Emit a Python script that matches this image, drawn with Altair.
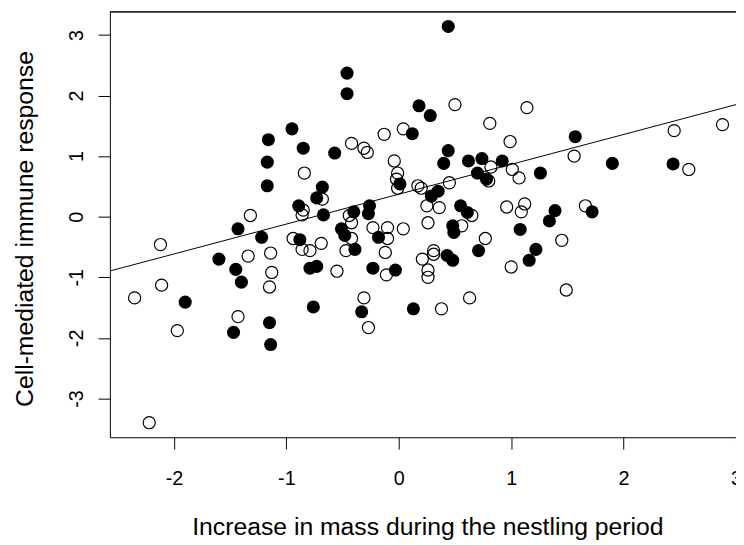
import altair as alt
import pandas as pd

# Filled (black) points
filled_x = [0.44, -0.46, -0.46, 0.18, 0.28, 0.12, 0.44, 0.40, -0.95, -1.16, -0.85, -1.17, -1.17,
            -0.57, 1.57, 1.90, 2.44, 1.26, 1.39, 1.34, 1.72, 1.08, 1.22, 1.16, 0.62, 0.74, 0.92,
            0.70, 0.78, 0.01, 0.35, 0.29, 0.55, 0.61, 0.48, 0.49, -0.68, -0.73, -0.67, -0.40,
            -0.26, -0.27, -0.51, -0.48, -0.18, -0.39, -0.73, -0.23, -0.03, 0.43, 0.48, 0.71,
            -0.89, -1.43, -1.22, -0.88, -1.60, -1.45, -1.40, -0.79, -1.90, -0.76, -1.15, -1.47,
            -1.14, -0.33, 0.13]
filled_y = [3.14, 2.37, 2.03, 1.83, 1.67, 1.37, 1.09, 0.88, 1.45, 1.27, 1.13, 0.90, 0.51,
            1.05, 1.32, 0.88, 0.87, 0.72, 0.10, -0.07, 0.08, -0.21, -0.54, -0.72, 0.92, 0.96, 0.92,
            0.72, 0.62, 0.54, 0.42, 0.34, 0.18, 0.07, -0.15, -0.26, 0.49, 0.31, 0.03, 0.08,
            0.18, 0.05, -0.20, -0.31, -0.34, -0.54, -0.82, -0.85, -0.88, -0.64, -0.72, -0.56,
            0.18, -0.20, -0.34, -0.38, -0.70, -0.87, -1.08, -0.85, -1.41, -1.49, -1.75, -1.91,
            -2.11, -1.57, -1.52]

# Open (hollow) points
open_x = [-2.35, -2.12, -2.11, -2.22, -1.97, -1.43, -1.15, -1.13, -1.14, -1.34, -1.32, -0.94,
          -0.86, -0.79, -0.86, -0.85, -0.84, -0.69, -0.55, -0.47, -0.42, -0.42, -0.44, -0.23,
          -0.10, 0.04, -0.10, -0.12, -0.11, 0.26, 0.26, 0.21, 0.31, 0.31, -0.31, -0.27, 0.38,
          0.63, 1.49, 0.77, 1.00, 1.45, 0.96, 1.12, 1.09, 1.66, 1.07, 1.01, 0.82, 0.80, 1.56,
          2.58, 2.45, 2.88, 1.14, 0.99, 0.81, 0.50, 0.04, -0.13, -0.42, -0.31, -0.28, -0.04,
          -0.01, -0.02, 0.17, 0.20, 0.45, 0.25, 0.36, 0.26, 0.65, -0.68, 0.56, -0.01]
open_y = [-1.34, -0.46, -1.13, -3.40, -1.88, -1.65, -1.16, -0.92, -0.60, -0.65, 0.02, -0.36,
          -0.54, -0.56, 0.03, 0.11, 0.72, -0.44, -0.90, -0.56, -0.36, -0.10, 0.02, -0.18,
          -0.18, -0.20, -0.36, -0.59, -0.96, -0.88, -1.00, -0.70, -0.56, -0.62, -1.34, -1.83, -1.52,
          -1.34, -1.21, -0.36, -0.83, -0.39, 0.16, 0.21, 0.08, 0.18, 0.64, 0.78, 0.82, 0.59, 1.00,
          0.78, 1.42, 1.52, 1.80, 1.24, 1.54, 1.85, 1.45, 1.36, 1.21, 1.13, 1.06, 0.92,
          0.72, 0.62, 0.51, 0.47, 0.56, 0.18, 0.15, -0.10, 0.02, 0.29, -0.15, 0.47]

# Regression line end points
fit_x = [-2.57, 3.0]
fit_y = [-0.896, 1.85]

x_ticks = [-2, -1, 0, 1, 2, 3]
y_ticks = [-3, -2, -1, 0, 1, 2, 3]

x_title = "Increase in mass during the nestling period"
y_title = "Cell-mediated immune response"

FONT = "Liberation Sans"
W, H = 633, 430

df_f = pd.DataFrame({"x": filled_x, "y": filled_y})
df_o = pd.DataFrame({"x": open_x, "y": open_y})
df_l = pd.DataFrame({"x": fit_x, "y": fit_y})

xs = alt.Scale(domain=[-2.57, 3.0], nice=False, zero=False)
ys = alt.Scale(domain=[-3.64, 3.38], nice=False, zero=False)

x_axis = alt.Axis(values=x_ticks, labelExpr="'' + datum.value", title=x_title, grid=False,
                  tickSize=12, labelPadding=36, labelBaseline="alphabetic", labelFontSize=20,
                  labelFont=FONT, labelColor="black", labelFlush=False, labelOverlap=False,
                  domainColor="black", tickColor="black",
                  titleFont=FONT, titleFontSize=25, titleFontWeight="normal", titleColor="black",
                  titleBaseline="alphabetic", titleAlign="center", titleX=321, titleY=98)
y_axis = alt.Axis(values=y_ticks, labelExpr="'' + datum.value", title=y_title, grid=False,
                  tickSize=12, labelPadding=16, labelAngle=270, labelAlign="center",
                  labelBaseline="alphabetic", labelFontSize=20, labelFont=FONT,
                  labelColor="black", labelFlush=False, labelOverlap=False,
                  domainColor="black", tickColor="black",
                  titleFont=FONT, titleFontSize=25, titleFontWeight="normal", titleColor="black",
                  titleAngle=270, titleBaseline="alphabetic", titleAlign="center",
                  titleX=-78, titleY=219)

open_pts = alt.Chart(df_o).mark_point(shape="circle", filled=False, size=150,
                                      strokeWidth=1.2, color="black", opacity=1).encode(
    x=alt.X("x:Q", scale=xs, axis=x_axis),
    y=alt.Y("y:Q", scale=ys, axis=y_axis),
)

filled_pts = alt.Chart(df_f).mark_circle(size=175, color="black", opacity=1).encode(
    x=alt.X("x:Q", scale=xs),
    y=alt.Y("y:Q", scale=ys),
)

line = alt.Chart(df_l).mark_line(color="black", strokeWidth=1, clip=True).encode(
    x=alt.X("x:Q", scale=xs),
    y=alt.Y("y:Q", scale=ys),
)

top_border = alt.Chart(df_l).mark_rule(color="black", strokeWidth=1).encode(
    x=alt.value(0), x2=alt.value(W), y=alt.value(0)
)

chart = alt.layer(open_pts, filled_pts, line, top_border).properties(
    width=W, height=H,
    autosize=alt.AutoSizeParams(type="none"),
    padding={"left": 103, "top": 1, "right": 0, "bottom": 106},
    background="white",
).configure_view(stroke=None)

chart.save("out.html", embed_options={"renderer": "svg", "actions": False})
